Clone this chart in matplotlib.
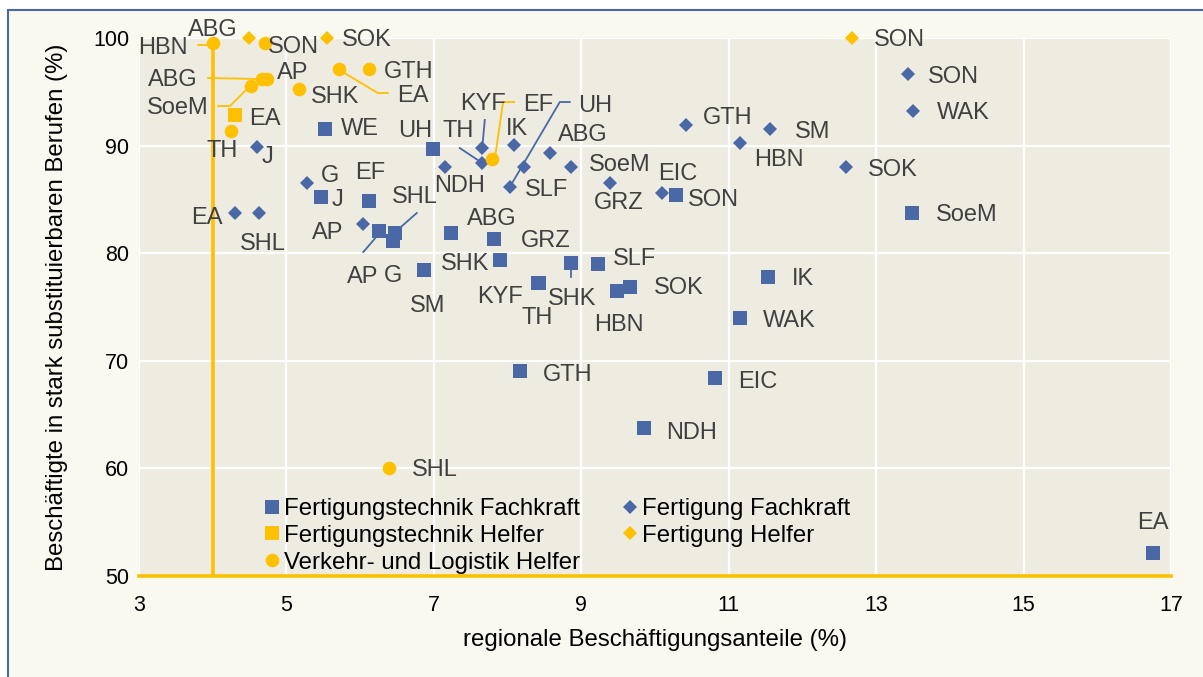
import matplotlib.pyplot as plt
from matplotlib.patches import Rectangle
import numpy as np

plt.rcParams['font.family'] = ['Liberation Sans', 'DejaVu Sans']

BLUE = '#4A67A6'
ORANGE = '#FFC000'

# Fertigungstechnik Fachkraft (blue squares)
ftf_lbl = ['WE', 'UH', 'J', 'EF', 'AP', 'SHL', 'G', 'ABG', 'GRZ', 'SHK', 'SM', 'KYF', 'TH',
           'SHK', 'SLF', 'HBN', 'SOK', 'IK', 'WAK', 'GTH', 'EIC', 'NDH', 'SON', 'SoeM', 'EA']
ftf_x = [5.52, 6.99, 5.47, 6.12, 6.26, 6.47, 6.45, 7.23, 7.82, 7.90, 6.87, 8.41, 8.42,
         8.86, 9.23, 9.49, 9.66, 11.53, 11.15, 8.17, 10.82, 9.85, 10.29, 13.49, 16.76]
ftf_y = [91.54, 89.68, 85.22, 84.85, 82.06, 81.88, 81.13, 81.88, 81.32, 79.37, 78.44, 77.23, 77.2,
         79.09, 79.0, 76.49, 76.86, 77.79, 73.98, 69.05, 68.4, 63.75, 85.41, 83.74, 52.14]

# Fertigung Fachkraft (blue diamonds)
ff_lbl = ['EA', 'SHL', 'J', 'G', 'AP', 'NDH', 'KYF', 'TH', 'IK', 'UH', 'SLF', 'ABG', 'SoeM',
          'GRZ', 'EIC', 'GTH', 'HBN', 'SM', 'SOK', 'SON', 'WAK']
ff_x = [4.30, 4.63, 4.60, 5.28, 6.04, 7.15, 7.65, 7.65, 8.09, 8.03, 8.22, 8.58, 8.86,
        9.39, 10.10, 10.42, 11.15, 11.56, 12.59, 13.43, 13.50]
ff_y = [83.74, 83.74, 89.87, 86.52, 82.71, 88.01, 89.78, 88.38, 90.06, 86.15, 88.01, 89.31, 88.01,
        86.52, 85.59, 91.91, 90.24, 91.54, 88.01, 96.65, 93.22]

# Fertigungstechnik Helfer (orange squares)
fth_lbl = ['EA']
fth_x = [4.30]
fth_y = [92.84]

# Fertigung Helfer (orange diamonds)
fh_lbl = ['ABG', 'SOK', 'SON']
fh_x = [4.49, 5.55, 12.67]
fh_y = [100.0, 100.0, 100.0]

# Verkehr- und Logistik Helfer (orange circles)
vlh_lbl = ['HBN', 'SON', 'ABG', 'AP', 'SoeM', 'TH', 'SHK', 'EA', 'GTH', 'EF', 'SHL']
vlh_x = [4.00, 4.71, 4.67, 4.74, 4.52, 4.25, 5.17, 5.71, 6.12, 7.79, 6.39]
vlh_y = [99.54, 99.54, 96.19, 96.19, 95.54, 91.36, 95.26, 97.12, 97.12, 88.75, 60.04]

# label placement (pixel offsets from marker, y downwards)
ftf_off = [(35, -3), (-18, -21), (16, 0), (1, -31), (-17, 43), (20, -38), (0, 32), (41, -16),
           (51, 0), (-35, 2), (3, 34), (-38, 11), (-1, 32), (1, 34), (36, -7), (1, 32), (49, -1),
           (35, 0), (49, 1), (48, 1), (42, 1), (48, 2), (37, 3), (55, 0), (0, -32)]
ff_off = [(-28, 3), (4, 29), (11, 8), (23, -10), (-35, 6), (15, 16), (1, -46), (-24, -35),
          (3, -18), (85, -84), (23, 20), (32, -21), (49, -5), (9, 17), (15, -22), (42, -10),
          (39, 14), (43, 0), (47, 0), (46, 0), (50, 0)]
fth_off = [(30, 1)]
fh_off = [(-36, -11), (40, 0), (48, 0)]
vlh_off = [(-50, 3), (28, 2), (-89, -1), (25, -8), (-73, 20), (-9, 18), (36, 5), (74, 25),
           (40, 1), (46, -57), (46, 0)]

# leader lines: (series, index) -> polyline offsets in pixels
leaders = {
    ('ftf', 4): [(-16, 21), (-4, 7)],
    ('ftf', 5): [(22, -20), (5, -5)],
    ('ftf', 13): [(0, 7), (0, 14)],
    ('ff', 6): [(1, -6), (3, -28)],
    ('ff', 7): [(-4, -3), (-22, -15)],
    ('ff', 9): [(0, 0), (50, -85), (60, -85)],
    ('vlh', 0): [(-15, 2), (-3, 2)],
    ('vlh', 2): [(-54, -1), (-4, 0)],
    ('vlh', 4): [(-33, 20), (-21, 20), (-1, 0)],
    ('vlh', 7): [(4, 3), (39, 24), (49, 24)],
    ('vlh', 9): [(3, -2), (11, -57), (22, -57)],
}

fig = plt.figure(figsize=(12.03, 6.77), dpi=100, facecolor='white')
frame = Rectangle((8 / 1203, -0.05), 1.0, 1.05 - 10 / 677, transform=fig.transFigure,
                  facecolor='#F9F9F0', edgecolor=BLUE, linewidth=1.5, zorder=-5)
fig.add_artist(frame)
ax = fig.add_axes([139 / 1203, 101 / 677, 1032 / 1203, 538 / 677])
ax.set_zorder(1)
ax.set_facecolor('#EEECE1')
ax.set_xlim(3, 17)
ax.set_ylim(50, 100)
ax.set_xticks(range(3, 18, 2))
ax.set_yticks(range(50, 101, 10))
ax.grid(True, color='white', linewidth=1.6)
ax.set_axisbelow(True)
for s in ax.spines.values():
    s.set_visible(False)
ax.tick_params(length=0, labelsize=15.5, colors='black')
ax.tick_params(axis='x', pad=14)
ax.tick_params(axis='y', pad=7)

ax.axvline(4, color=ORANGE, linewidth=2.6, zorder=1.5)
ax.axhline(50, color=ORANGE, linewidth=2.6, zorder=1.5, clip_on=False)

series = {
    'ftf': (ftf_x, ftf_y, ftf_lbl, ftf_off, BLUE, 's', 9.8, 'Fertigungstechnik Fachkraft'),
    'ff': (ff_x, ff_y, ff_lbl, ff_off, BLUE, 'D', 7.0, 'Fertigung Fachkraft'),
    'fth': (fth_x, fth_y, fth_lbl, fth_off, ORANGE, 's', 9.8, 'Fertigungstechnik Helfer'),
    'fh': (fh_x, fh_y, fh_lbl, fh_off, ORANGE, 'D', 7.0, 'Fertigung Helfer'),
    'vlh': (vlh_x, vlh_y, vlh_lbl, vlh_off, ORANGE, 'o', 9.8, 'Verkehr- und Logistik Helfer'),
}

handles = {}
for key, (xs, ys, lbls, offs, col, mk, ms, name) in series.items():
    h, = ax.plot(xs, ys, linestyle='none', marker=mk, markersize=ms, color=col,
                 markeredgewidth=0, label=name, zorder=3, clip_on=False)
    handles[key] = h
    for i, (x, y, t, (dx, dy)) in enumerate(zip(xs, ys, lbls, offs)):
        ax.annotate(t, xy=(x, y), xytext=(dx, -dy), textcoords='offset pixels',
                    ha='center', va='center_baseline', fontsize=17, color='#404040',
                    zorder=4, annotation_clip=False)
        if (key, i) in leaders:
            base = ax.transData.transform((x, y))
            pts = [base + np.array([ox, -oy]) for ox, oy in leaders[(key, i)]]
            d = ax.transData.inverted().transform(pts)
            ax.plot(d[:, 0], d[:, 1], color=col, linewidth=1.3, zorder=2.5)

ax.set_xlabel('regionale Beschäftigungsanteile (%)', fontsize=17.3, color='black')
ax.set_ylabel('Beschäftigte in stark substituierbaren Berufen (%)', fontsize=17.3, color='black')
ax.xaxis.set_label_coords(0.5, -0.119)
ax.xaxis.label.set_va('center')
ax.yaxis.set_label_coords(-0.0795, 0.5)
ax.yaxis.label.set_va('center')

order = ['ftf', 'fth', 'vlh', 'ff', 'fh']
ax.legend([handles[k] for k in order], [series[k][7] for k in order],
          loc='upper left', bbox_to_anchor=(0.122, 0.145), ncol=2, frameon=False,
          fontsize=17.3, handlelength=0.6, handletextpad=0.2, columnspacing=1.75,
          labelspacing=0.2, borderpad=0, borderaxespad=0, markerscale=1.0)

fig.savefig('out.png', dpi=100, facecolor=fig.get_facecolor())
